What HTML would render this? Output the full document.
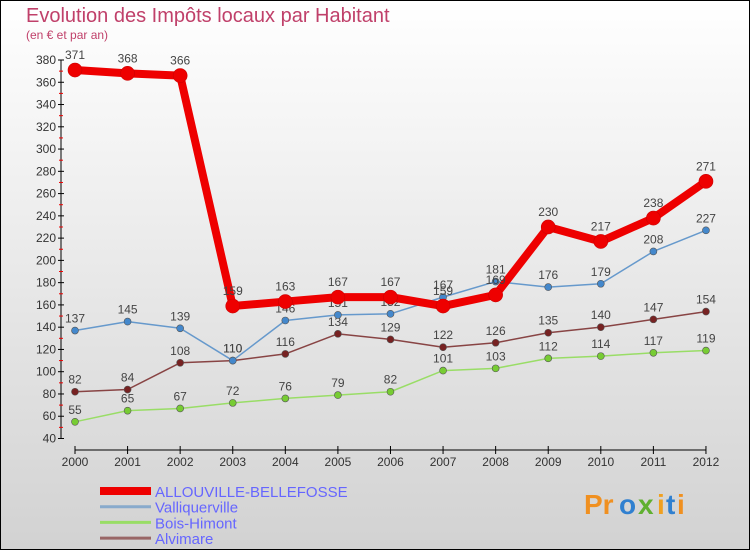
<!DOCTYPE html>
<html><head><meta charset="utf-8"><style>
body{margin:0;width:750px;height:550px;overflow:hidden;font-family:"Liberation Sans","DejaVu Sans",sans-serif}
</style></head><body>
<svg width="750" height="550" xmlns="http://www.w3.org/2000/svg">
<defs><linearGradient id="bg" x1="0" y1="0" x2="0" y2="1"><stop offset="0" stop-color="#ffffff"/><stop offset="1" stop-color="#d2d2d2"/></linearGradient></defs>
<rect x="0.5" y="0.5" width="749" height="549" fill="url(#bg)" stroke="#000"/>
<text x="26" y="22" font-size="20" fill="#c0406a">Evolution des Impôts locaux par Habitant</text>
<text x="26" y="39" font-size="12" fill="#c0406a">(en € et par an)</text>
<g id="axes"></g>
<g id="series"></g>
<g id="legend" font-size="15" fill="#6666ff"></g>
<g font-size="28" font-weight="bold">
<text x="584" y="514" fill="#f09020">Pr</text><text x="619" y="514" fill="#3080d0">o</text><text x="638" y="514" fill="#60b030">x</text><text x="657" y="514" fill="#f0a020">i</text><text x="666" y="514" fill="#3080d0">t</text><text x="677" y="514" fill="#f09020">i</text>
</g>
</svg>
<script>
const years=[2000,2001,2002,2003,2004,2005,2006,2007,2008,2009,2010,2011,2012];
const allouville=[371,368,366,159,163,167,167,159,169,230,217,238,271];
const valliquerville=[137,145,139,110,146,151,152,167,181,176,179,208,227];
const boisHimont=[55,65,67,72,76,79,82,101,103,112,114,117,119];
const alvimare=[82,84,108,110,116,134,129,122,126,135,140,147,154];
const yTicks=[40,60,80,100,120,140,160,180,200,220,240,260,280,300,320,340,360,380];
const NS='http://www.w3.org/2000/svg';
const X=i=>75+i*52.58;
const Y=v=>438.5-(v-40)*(378.5/340);
function mk(tag,attrs,parent){const e=document.createElementNS(NS,tag);for(const k in attrs)e.setAttribute(k,attrs[k]);parent.appendChild(e);return e;}
const axes=document.getElementById('axes');
let yl=mk('line',{x1:61,y1:Y(380),x2:61,y2:Y(40),stroke:'#000'},axes);


yTicks.forEach(v=>{
 mk('line',{x1:58,x2:64,y1:Y(v),y2:Y(v),stroke:'#000'},axes);
 if(v<380) mk('line',{x1:59,x2:63,y1:Y(v+10),y2:Y(v+10),stroke:'#e00'},axes);
 const t=mk('text',{x:56,y:Y(v)+4,'text-anchor':'end','font-size':12,fill:'#333'},axes);
 t.textContent=v;
 
 
});
let xl=mk('line',{x1:X(0),y1:450,x2:X(12),y2:450,stroke:'#000'},axes);


years.forEach((y,i)=>{
 mk('line',{x1:X(i),x2:X(i),y1:446,y2:454,stroke:'#000'},axes);
 const t=mk('text',{x:X(i),y:466,'text-anchor':'middle','font-size':12,fill:'#333'},axes);
 t.textContent=y;
 
 
});
const ser=document.getElementById('series');
const defs=[
 {d:boisHimont,c:'#99dd66',f:'#77cc33',w:1.5,r:3.5,n:'bois-himont'},
 {d:alvimare,c:'#884444',f:'#772222',w:1.5,r:3.5,n:'alvimare'},
 {d:valliquerville,c:'#6699cc',f:'#4488cc',w:1.5,r:3.5,n:'valliquerville'},
 {d:allouville,c:'#ee0000',f:'#ee0000',w:8,r:7,n:'allouville-bellefosse'}];
defs.forEach(s=>{
 const g=mk('g',{},ser);
 
 
 const p=mk('polyline',{points:s.d.map((v,i)=>X(i)+','+Y(v)).join(' '),fill:'none',stroke:s.c,'stroke-width':s.w,'stroke-linejoin':'round'},g);
 
 
 s.d.forEach((v,i)=>{
  const c=mk('circle',{cx:X(i),cy:Y(v),r:s.r,fill:s.f,stroke:s.w>2?'#cc0000':'#555','stroke-width':0.6},g);
  
  
  const t=mk('text',{x:X(i),y:Y(v)-(s.w>2?11:8),'text-anchor':'middle','font-size':12,fill:'#444'},g);
  t.textContent=v;
  
  
 });
});
const lg=document.getElementById('legend');
[['ALLOUVILLE-BELLEFOSSE','#ee0000',8],['Valliquerville','#88aacc',3],['Bois-Himont','#99dd66',3],['Alvimare','#996666',3]].forEach((e,i)=>{
 const y=491+i*15.7;
 const l=mk('line',{x1:100,x2:151,y1:y,y2:y,stroke:e[1],'stroke-width':e[2]},lg);
 
 
 const t=mk('text',{x:155,y:y+6},lg);
 t.textContent=e[0];
 
 
});
</script>
</body></html>
